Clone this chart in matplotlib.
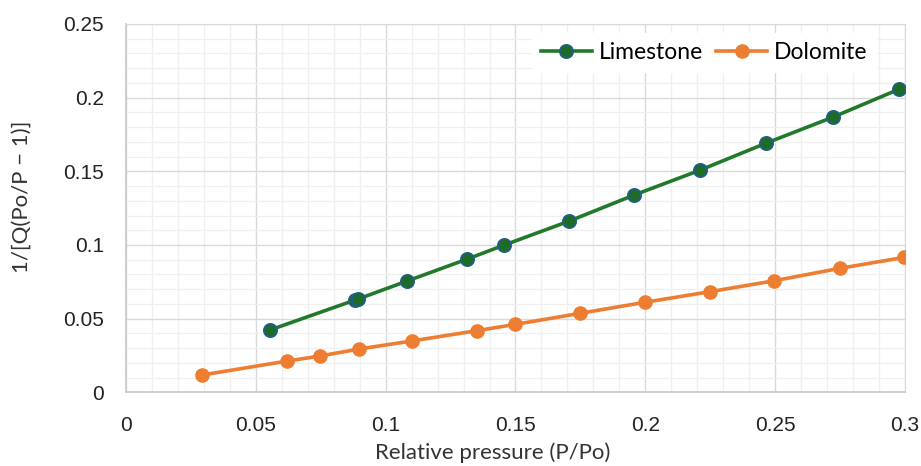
import matplotlib
matplotlib.use("Agg")
import matplotlib.pyplot as plt
from matplotlib.ticker import MultipleLocator, FuncFormatter

# values
lime_x = [0.0555, 0.0882, 0.0894, 0.1082, 0.1314, 0.1456, 0.1707, 0.1957, 0.2211, 0.2465, 0.2723, 0.2978]
lime_y = [0.0423, 0.0626, 0.0633, 0.0755, 0.0904, 0.0999, 0.1162, 0.1339, 0.1508, 0.1691, 0.1868, 0.2058]
dolo_x = [0.0292, 0.0621, 0.0747, 0.0899, 0.1100, 0.1351, 0.1500, 0.1749, 0.1999, 0.2250, 0.2496, 0.2748, 0.2998]
dolo_y = [0.0117, 0.0212, 0.0246, 0.0294, 0.0348, 0.0418, 0.0461, 0.0536, 0.0611, 0.0683, 0.0757, 0.0841, 0.0916]

fig = plt.figure(figsize=(9.21, 4.66), dpi=100)
ax = fig.add_axes([0.1368, 0.1582, 0.8458, 0.7903])

ax.plot(lime_x, lime_y, color="#217a2c", lw=2.6, marker="o", ms=9.5,
        mfc="#1e6b27", mec="#1f5f8b", mew=1.3, label="Limestone", zorder=3)
ax.plot(dolo_x, dolo_y, color="#ed7d31", lw=2.6, marker="o", ms=9.5,
        mfc="#ed7d31", mec="#ed7d31", label="Dolomite", zorder=3)

ax.set_xlim(0, 0.3)
ax.set_ylim(0, 0.25)
ax.xaxis.set_major_locator(MultipleLocator(0.05))
ax.yaxis.set_major_locator(MultipleLocator(0.05))
ax.xaxis.set_minor_locator(MultipleLocator(0.01))
ax.yaxis.set_minor_locator(MultipleLocator(0.01))
fmt = FuncFormatter(lambda v, p: "{:g}".format(round(v, 4)))
ax.xaxis.set_major_formatter(fmt)
ax.yaxis.set_major_formatter(fmt)

ax.grid(which="major", color="#d9d9d9", lw=1.0, zorder=0)
ax.grid(which="minor", color="#efefef", lw=0.9, zorder=0)
ax.set_axisbelow(True)
ax.tick_params(which="both", length=0)
ax.tick_params(axis="y", pad=16, labelsize=15, labelcolor="#222222")
ax.tick_params(axis="x", pad=17, labelsize=15, labelcolor="#222222")
for lab in ax.get_xticklabels() + ax.get_yticklabels():
    lab.set_family("Liberation Sans")
for s in ["top", "right"]:
    ax.spines[s].set_color("#d9d9d9")
for s in ["left", "bottom"]:
    ax.spines[s].set_color("#c8c8c8")
    ax.spines[s].set_linewidth(1.2)

ax.set_xlabel("Relative pressure (P/Po)", family="Lato", fontsize=16, color="#333333")
ax.set_ylabel("1/[Q(Po/P \u2212 1)]", family="Lato", fontsize=16, color="#333333")
ax.xaxis.set_label_coords(0.471, -0.135)
ax.yaxis.set_label_coords(-0.121, 0.53)

leg = ax.legend(loc="upper right", ncol=2, frameon=True, fancybox=False,
                prop={"family": "Lato", "size": 16.5}, handlelength=2.2,
                columnspacing=0.6, handletextpad=0.3, borderaxespad=0.4,
                bbox_to_anchor=(0.975, 1.0))
leg.get_frame().set_edgecolor("white")
leg.get_frame().set_alpha(1.0)

plt.savefig("out.png", dpi=100)
